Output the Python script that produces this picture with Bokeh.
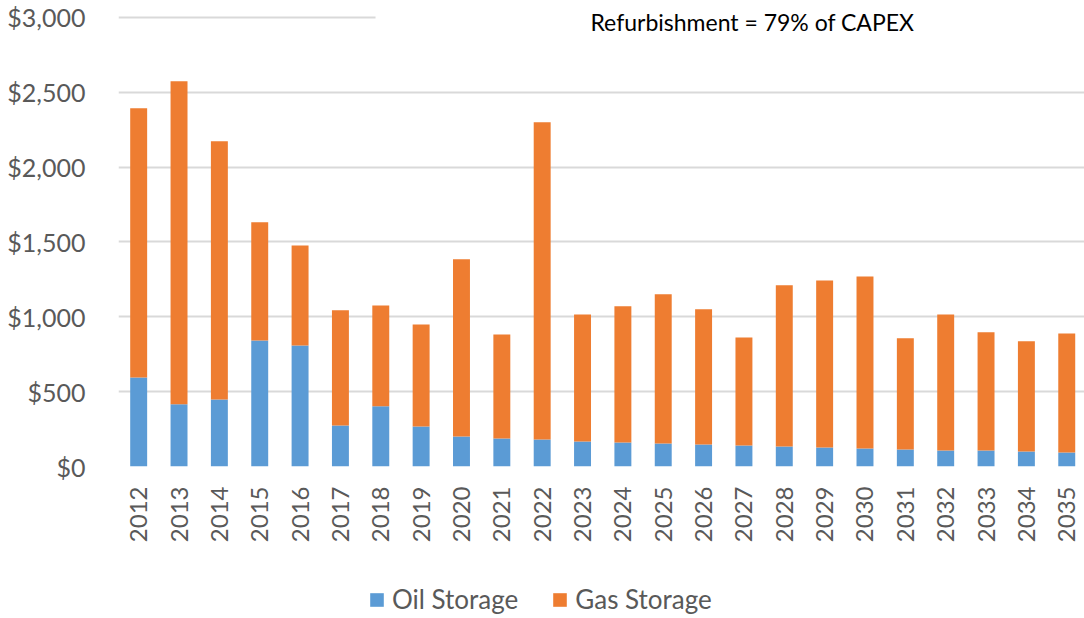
from bokeh.plotting import figure
from bokeh.layouts import column
from bokeh.models import (ColumnDataSource, FixedTicker, Legend, LegendItem,
                          BoxAnnotation, Label, NumeralTickFormatter, Range1d)
from bokeh.embed import file_html
from bokeh.resources import INLINE

years = ["2012", "2013", "2014", "2015", "2016", "2017", "2018", "2019", "2020",
         "2021", "2022", "2023", "2024", "2025", "2026", "2027", "2028", "2029",
         "2030", "2031", "2032", "2033", "2034", "2035"]
total = [2393, 2574, 2172, 1631, 1477, 1043, 1076, 949, 1384, 882, 2300, 1016,
         1070, 1150, 1050, 862, 1210, 1243, 1270, 856, 1016, 896, 836, 889]
oil = [595, 416, 448, 842, 809, 274, 403, 267, 200, 187, 180, 167,
       160, 154, 147, 140, 134, 127, 120, 114, 107, 107, 100, 94]
gas = [t - o for t, o in zip(total, oil)]
y_ticks = [0, 500, 1000, 1500, 2000, 2500, 3000]
series = ["Oil Storage", "Gas Storage"]
colors = ["#5B9BD5", "#EE7D31"]
subtitle = "Refurbishment = 79% of CAPEX"

FONT = "Lato"
GREY = "#595959"

xs = list(range(len(years)))
src = ColumnDataSource(dict(x=xs, oil=oil, gas=gas))

p = figure(width=1084, height=575, output_backend="svg", toolbar_location=None,
           x_range=Range1d(-0.5, 23.44), y_range=Range1d(0, 3113),
           min_border_left=118, min_border_right=0, min_border_top=0,
           min_border_bottom=109, outline_line_color=None)

r = p.vbar_stack(["oil", "gas"], x="x", width=0.42, source=src,
                 color=colors, line_color=None)

p.xgrid.grid_line_color = None
p.ygrid.grid_line_color = "#D9D9D9"
p.ygrid.grid_line_width = 2
p.ygrid.ticker = FixedTicker(ticks=y_ticks)

ya = p.yaxis[0]
ya.ticker = FixedTicker(ticks=y_ticks)
ya.formatter = NumeralTickFormatter(format="$0,0")
ya.axis_line_color = None
ya.major_tick_line_color = None
ya.minor_tick_line_color = None
ya.major_label_standoff = 27
ya.major_label_text_font = FONT
ya.major_label_text_font_size = "25px"
ya.major_label_text_color = GREY

xa = p.xaxis[0]
xa.ticker = FixedTicker(ticks=xs)
xa.major_label_overrides = {i: y for i, y in enumerate(years)}
xa.major_label_orientation = 3.14159265 / 2
xa.axis_line_color = None
xa.major_tick_line_color = None
xa.minor_tick_line_color = None
xa.major_label_standoff = 14
xa.major_label_text_font = FONT
xa.major_label_text_font_size = "24px"
xa.major_label_text_color = GREY

cover = BoxAnnotation(left=5.87, bottom=2960, fill_color="white", fill_alpha=1.0,
                      line_color=None)
p.add_layout(cover)

p.add_layout(Label(x=15.21, y=2972, text=subtitle, text_align="center",
                   text_baseline="alphabetic", text_font=FONT,
                   text_font_size="23px", text_color="#000000"))

# legend strip below the chart (frames of a column are aligned)
lg = figure(width=1084, height=40, output_backend="svg", toolbar_location=None,
            x_range=Range1d(0, 1), y_range=Range1d(0, 1),
            min_border=0, outline_line_color=None,
            x_axis_location=None, y_axis_location=None)
lg.grid.grid_line_color = None
# one swatch sample per series, kept outside the visible range
swatch = ColumnDataSource(dict(x=[-5], top=[0]))
items = []
for name, c in zip(series, colors):
    rr = lg.vbar(x="x", top="top", width=0.1, source=swatch, color=c, line_color=None)
    items.append(LegendItem(label=name, renderers=[rr]))
legend = Legend(items=items, orientation="horizontal", location=(250, 0),
                glyph_width=17, glyph_height=17, label_standoff=7, spacing=33,
                padding=0, margin=0, border_line_color=None,
                background_fill_alpha=0,
                label_text_font=FONT, label_text_font_size="26px",
                label_text_color=GREY)
lg.add_layout(legend, "center")

layout = column(p, lg, spacing=0)
open("out.html", "w").write(file_html(layout, INLINE))
